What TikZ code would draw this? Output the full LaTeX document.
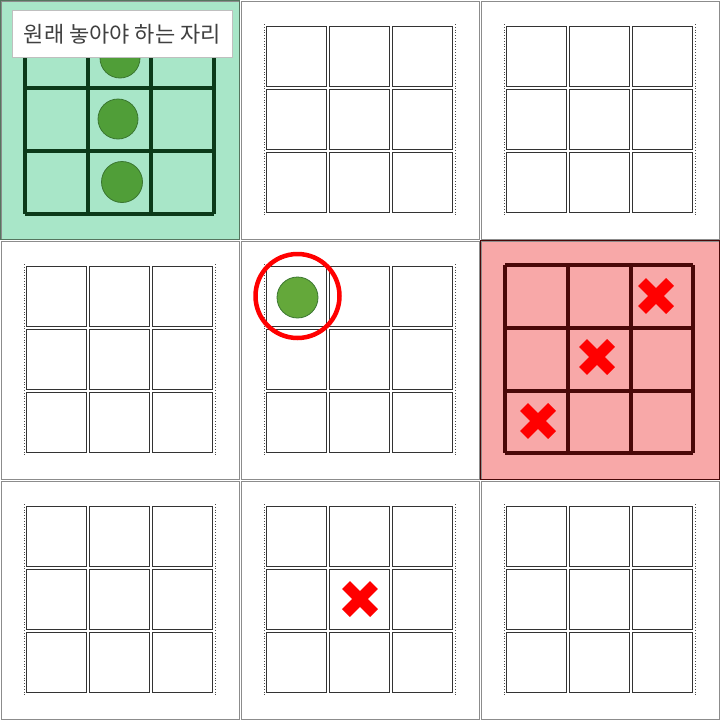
\documentclass[tikz,border=0pt]{standalone}
\usepackage{fontspec}
\newfontfamily\krfont{Noto Sans CJK KR}
\definecolor{mint}{RGB}{168,230,200}
\definecolor{pinkbg}{RGB}{248,168,168}
\definecolor{gboard}{RGB}{12,58,26}
\definecolor{rboard}{RGB}{74,8,8}
\definecolor{stonefill}{RGB}{80,158,56}
\definecolor{stonefillb}{RGB}{100,168,58}
\definecolor{stoneline}{RGB}{58,118,48}
\tikzset{
  cellframe/.style={draw=black!45, line width=0.8pt},
  wline/.style={draw=black!80, line width=0.9pt},
  wdot/.style={draw=black!70, line width=0.8pt, dotted},
  gline/.style={draw=gboard, line width=3.5pt, line cap=square},
  rline/.style={draw=rboard, line width=3.2pt, line cap=square},
  stone/.style={fill=stonefill, draw=stoneline, line width=0.8pt},
  xline/.style={draw=red, line width=11pt},
  ring/.style={draw=red, line width=4.5pt},
}
\newcommand\xmk[2]{%
  \draw[xline] (#1-14,#2-14) -- (#1+14,#2+14);
  \draw[xline] (#1-14,#2+14) -- (#1+14,#2-14);}
\begin{document}
\begin{tikzpicture}[x=1pt,y=-1pt]
\useasboundingbox (0,0) rectangle (720,720);
\fill[white] (0,0) rectangle (720,720);
% coloured cells
\fill[mint] (0,0) rectangle (240,240);
\fill[pinkbg] (480,240) rectangle (720,480);
% cell frames
\foreach \i in {0,1,2} \foreach \j in {0,1,2}
  \draw[cellframe] (\i*240+1,\j*240+1) rectangle (\i*240+239,\j*240+239);
\draw[draw=gboard!70, line width=1pt] (0.5,0.5) rectangle (239.5,239.5);
\draw[draw=rboard, line width=1.2pt] (480.6,240.6) rectangle (719.4,479.4);
% white boards
\foreach \ox/\oy in {240/0,480/0,0/240,240/240,0/480,240/480,480/480}{
  \begin{scope}[shift={(\ox,\oy)}]
    \foreach \a/\b in {25/88,88/151,151/214}
      \foreach \c/\d in {25/88,88/151,151/214}
        \draw[wline] (\a+1.3,\c+1.3) rectangle (\b-1.3,\d-1.3);
    \draw[wdot] (24,24) -- (24,215);
    \draw[wdot] (215,24) -- (215,215);
  \end{scope}
}
% green board
\foreach \v in {25,88,151,214}{
  \draw[gline] (\v,25) -- (\v,214);
  \draw[gline] (25,\v) -- (214,\v);
}
\draw[stone] (120,58) circle[radius=20];
\draw[stone] (118,119) circle[radius=20];
\draw[stone] (122,182) circle[radius=20.5];
\node[draw=black!25, fill=white, line width=0.6pt, anchor=north west, inner sep=0pt,
      minimum width=220pt, minimum height=47pt, text=black!75,
      font=\krfont\fontsize{22}{22}\selectfont] (label) at (12,10) {원래 놓아야 하는 자리};
% red board
\begin{scope}[shift={(480,240)}]
\foreach \v in {25,88,151,213}{
  \draw[rline] (\v,25) -- (\v,213);
  \draw[rline] (25,\v) -- (213,\v);
}
\end{scope}
\xmk{656}{296}
\xmk{597}{357}
\xmk{538}{421}
\xmk{360}{599}
% centre cell
\draw[stone, fill=stonefillb] (297.5,297.5) circle[radius=20.5];
\draw[ring] (297.5,296) circle[radius=42];
\end{tikzpicture}
\end{document}
